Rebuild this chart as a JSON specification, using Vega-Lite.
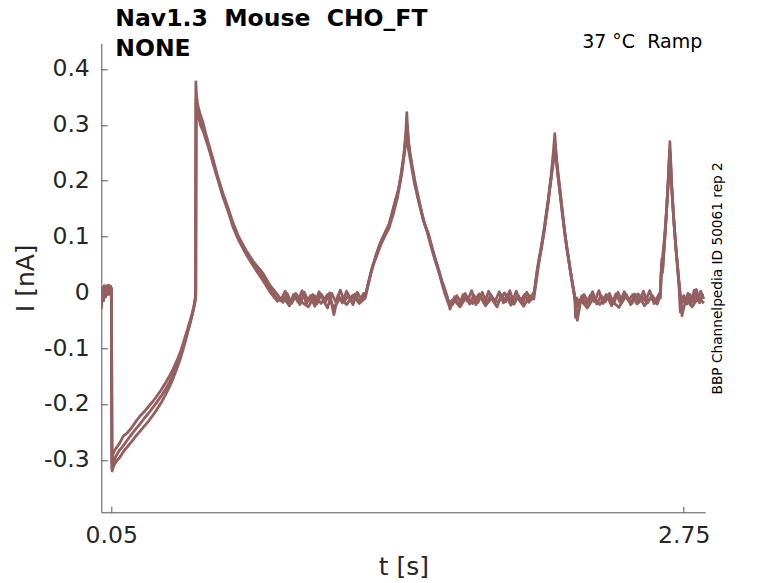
{
  "$schema": "https://vega.github.io/schema/vega-lite/v6.json",
  "description": "Nav1.3 ramp current, three repetitions",
  "autosize": {"type": "none"},
  "padding": {"left": 101.3, "top": 43.3, "right": 72.7, "bottom": 70.7},
  "width": 604,
  "height": 469,
  "title": {
    "text": ["Nav1.3\u00a0 Mouse\u00a0 CHO_FT", "NONE"],
    "anchor": "start",
    "frame": "group",
    "dx": 14,
    "offset": -28.5,
    "font": "DejaVu Sans",
    "fontSize": 23.5,
    "fontWeight": "bold",
    "color": "#000000",
    "lineHeight": 30
  },
  "data": {"values": [
    {"rep":"a","t":0.003,"I":-0.02},{"rep":"a","t":0.007,"I":0.008},{"rep":"a","t":0.012,"I":-0.01},{"rep":"a","t":0.017,"I":0.012},{"rep":"a","t":0.022,"I":-0.004},{"rep":"a","t":0.027,"I":0.01},{"rep":"a","t":0.032,"I":-0.002},{"rep":"a","t":0.037,"I":0.013},{"rep":"a","t":0.042,"I":0.0},{"rep":"a","t":0.047,"I":0.011},{"rep":"a","t":0.051,"I":0.004},{"rep":"a","t":0.053,"I":-0.305},
    {"rep":"a","t":0.058,"I":-0.29},{"rep":"a","t":0.066,"I":-0.283},{"rep":"a","t":0.075,"I":-0.278},{"rep":"a","t":0.09,"I":-0.27},{"rep":"a","t":0.106,"I":-0.258},{"rep":"a","t":0.125,"I":-0.252},{"rep":"a","t":0.145,"I":-0.243},{"rep":"a","t":0.165,"I":-0.232},{"rep":"a","t":0.185,"I":-0.222},{"rep":"a","t":0.205,"I":-0.214},{"rep":"a","t":0.225,"I":-0.205},{"rep":"a","t":0.245,"I":-0.196},{"rep":"a","t":0.263,"I":-0.187},{"rep":"a","t":0.285,"I":-0.175},{"rep":"a","t":0.305,"I":-0.163},{"rep":"a","t":0.325,"I":-0.15},{"rep":"a","t":0.341,"I":-0.138},{"rep":"a","t":0.36,"I":-0.122},{"rep":"a","t":0.375,"I":-0.108},{"rep":"a","t":0.388,"I":-0.093},{"rep":"a","t":0.4,"I":-0.078},{"rep":"a","t":0.41,"I":-0.066},{"rep":"a","t":0.42,"I":-0.053},{"rep":"a","t":0.43,"I":-0.04},{"rep":"a","t":0.44,"I":-0.025},{"rep":"a","t":0.447,"I":-0.008},
    {"rep":"a","t":0.449,"I":0.377},{"rep":"a","t":0.452,"I":0.355},{"rep":"a","t":0.456,"I":0.34},{"rep":"a","t":0.46,"I":0.332},{"rep":"a","t":0.47,"I":0.318},{"rep":"a","t":0.482,"I":0.305},{"rep":"a","t":0.495,"I":0.285},{"rep":"a","t":0.51,"I":0.265},{"rep":"a","t":0.529,"I":0.24},{"rep":"a","t":0.55,"I":0.21},{"rep":"a","t":0.576,"I":0.178},{"rep":"a","t":0.6,"I":0.152},{"rep":"a","t":0.623,"I":0.126},{"rep":"a","t":0.65,"I":0.1},{"rep":"a","t":0.686,"I":0.075},{"rep":"a","t":0.72,"I":0.055},{"rep":"a","t":0.764,"I":0.035},{"rep":"a","t":0.8,"I":0.012},{"rep":"a","t":0.834,"I":-0.004},
    {"rep":"a","t":0.86,"I":-0.018},{"rep":"a","t":0.88,"I":-0.002},{"rep":"a","t":0.9,"I":-0.02},{"rep":"a","t":0.92,"I":-0.006},{"rep":"a","t":0.94,"I":-0.022},{"rep":"a","t":0.96,"I":0.0},{"rep":"a","t":0.98,"I":-0.016},{"rep":"a","t":1.0,"I":-0.004},{"rep":"a","t":1.02,"I":-0.021},{"rep":"a","t":1.04,"I":-0.003},{"rep":"a","t":1.06,"I":-0.017},{"rep":"a","t":1.08,"I":-0.001},{"rep":"a","t":1.1,"I":-0.04},{"rep":"a","t":1.12,"I":-0.005},{"rep":"a","t":1.14,"I":-0.019},{"rep":"a","t":1.16,"I":0.002},{"rep":"a","t":1.18,"I":-0.015},{"rep":"a","t":1.2,"I":-0.003},{"rep":"a","t":1.22,"I":-0.018},{"rep":"a","t":1.24,"I":-0.002},
    {"rep":"a","t":1.25,"I":-0.004},{"rep":"a","t":1.265,"I":0.02},{"rep":"a","t":1.28,"I":0.042},{"rep":"a","t":1.297,"I":0.065},{"rep":"a","t":1.315,"I":0.085},{"rep":"a","t":1.33,"I":0.098},{"rep":"a","t":1.345,"I":0.11},{"rep":"a","t":1.36,"I":0.122},{"rep":"a","t":1.375,"I":0.143},{"rep":"a","t":1.39,"I":0.165},{"rep":"a","t":1.406,"I":0.186},{"rep":"a","t":1.42,"I":0.218},{"rep":"a","t":1.432,"I":0.25},{"rep":"a","t":1.44,"I":0.29},{"rep":"a","t":1.444,"I":0.322},{"rep":"a","t":1.448,"I":0.29},{"rep":"a","t":1.455,"I":0.255},{"rep":"a","t":1.47,"I":0.225},{"rep":"a","t":1.484,"I":0.196},{"rep":"a","t":1.5,"I":0.168},{"rep":"a","t":1.515,"I":0.142},{"rep":"a","t":1.53,"I":0.12},{"rep":"a","t":1.547,"I":0.104},{"rep":"a","t":1.565,"I":0.078},{"rep":"a","t":1.58,"I":0.058},{"rep":"a","t":1.594,"I":0.041},{"rep":"a","t":1.61,"I":0.02},{"rep":"a","t":1.625,"I":0.004},{"rep":"a","t":1.641,"I":-0.015},
    {"rep":"a","t":1.66,"I":-0.022},{"rep":"a","t":1.68,"I":-0.006},{"rep":"a","t":1.7,"I":-0.019},{"rep":"a","t":1.72,"I":-0.002},{"rep":"a","t":1.74,"I":-0.021},{"rep":"a","t":1.76,"I":-0.005},{"rep":"a","t":1.78,"I":-0.018},{"rep":"a","t":1.8,"I":0.0},{"rep":"a","t":1.82,"I":-0.02},{"rep":"a","t":1.84,"I":-0.004},{"rep":"a","t":1.86,"I":-0.017},{"rep":"a","t":1.88,"I":0.001},{"rep":"a","t":1.9,"I":-0.019},{"rep":"a","t":1.92,"I":-0.003},{"rep":"a","t":1.94,"I":-0.02},{"rep":"a","t":1.96,"I":0.002},{"rep":"a","t":1.98,"I":-0.016},{"rep":"a","t":2.0,"I":-0.004},{"rep":"a","t":2.02,"I":-0.018},{"rep":"a","t":2.04,"I":-0.002},
    {"rep":"a","t":2.045,"I":0.0},{"rep":"a","t":2.055,"I":0.03},{"rep":"a","t":2.065,"I":0.055},{"rep":"a","t":2.072,"I":0.068},{"rep":"a","t":2.09,"I":0.11},{"rep":"a","t":2.111,"I":0.166},{"rep":"a","t":2.125,"I":0.21},{"rep":"a","t":2.135,"I":0.25},{"rep":"a","t":2.142,"I":0.284},{"rep":"a","t":2.15,"I":0.24},{"rep":"a","t":2.165,"I":0.19},{"rep":"a","t":2.178,"I":0.145},{"rep":"a","t":2.189,"I":0.107},{"rep":"a","t":2.205,"I":0.065},{"rep":"a","t":2.22,"I":0.028},{"rep":"a","t":2.236,"I":-0.008},{"rep":"a","t":2.24,"I":-0.045},{"rep":"a","t":2.245,"I":-0.01},
    {"rep":"a","t":2.26,"I":-0.02},{"rep":"a","t":2.28,"I":-0.004},{"rep":"a","t":2.3,"I":-0.018},{"rep":"a","t":2.32,"I":0.001},{"rep":"a","t":2.34,"I":-0.021},{"rep":"a","t":2.36,"I":-0.006},{"rep":"a","t":2.38,"I":-0.017},{"rep":"a","t":2.4,"I":-0.002},{"rep":"a","t":2.42,"I":-0.02},{"rep":"a","t":2.44,"I":0.0},{"rep":"a","t":2.46,"I":-0.016},{"rep":"a","t":2.48,"I":-0.004},{"rep":"a","t":2.5,"I":-0.022},{"rep":"a","t":2.52,"I":-0.003},{"rep":"a","t":2.54,"I":-0.018},{"rep":"a","t":2.56,"I":0.002},{"rep":"a","t":2.58,"I":-0.019},{"rep":"a","t":2.6,"I":-0.005},{"rep":"a","t":2.62,"I":-0.017},{"rep":"a","t":2.635,"I":-0.004},
    {"rep":"a","t":2.64,"I":-0.01},{"rep":"a","t":2.643,"I":0.03},{"rep":"a","t":2.647,"I":0.06},{"rep":"a","t":2.652,"I":0.045},{"rep":"a","t":2.66,"I":0.09},{"rep":"a","t":2.67,"I":0.15},{"rep":"a","t":2.678,"I":0.205},{"rep":"a","t":2.685,"I":0.27},{"rep":"a","t":2.692,"I":0.2},{"rep":"a","t":2.7,"I":0.15},{"rep":"a","t":2.71,"I":0.095},{"rep":"a","t":2.72,"I":0.05},{"rep":"a","t":2.728,"I":0.012},{"rep":"a","t":2.734,"I":-0.035},{"rep":"a","t":2.74,"I":-0.008},
    {"rep":"a","t":2.755,"I":-0.018},{"rep":"a","t":2.77,"I":-0.002},{"rep":"a","t":2.785,"I":-0.02},{"rep":"a","t":2.8,"I":0.004},{"rep":"a","t":2.815,"I":-0.015},{"rep":"a","t":2.83,"I":0.002},{"rep":"a","t":2.845,"I":-0.012},

    {"rep":"b","t":0.003,"I":-0.03},{"rep":"b","t":0.009,"I":0.0},{"rep":"b","t":0.014,"I":-0.015},{"rep":"b","t":0.019,"I":0.006},{"rep":"b","t":0.024,"I":-0.008},{"rep":"b","t":0.03,"I":0.012},{"rep":"b","t":0.035,"I":-0.004},{"rep":"b","t":0.04,"I":0.009},{"rep":"b","t":0.045,"I":-0.003},{"rep":"b","t":0.05,"I":0.008},{"rep":"b","t":0.053,"I":-0.315},
    {"rep":"b","t":0.06,"I":-0.305},{"rep":"b","t":0.07,"I":-0.295},{"rep":"b","t":0.085,"I":-0.285},{"rep":"b","t":0.106,"I":-0.275},{"rep":"b","t":0.125,"I":-0.265},{"rep":"b","t":0.145,"I":-0.255},{"rep":"b","t":0.165,"I":-0.245},{"rep":"b","t":0.185,"I":-0.236},{"rep":"b","t":0.205,"I":-0.226},{"rep":"b","t":0.225,"I":-0.217},{"rep":"b","t":0.245,"I":-0.207},{"rep":"b","t":0.263,"I":-0.198},{"rep":"b","t":0.285,"I":-0.186},{"rep":"b","t":0.305,"I":-0.174},{"rep":"b","t":0.325,"I":-0.161},{"rep":"b","t":0.341,"I":-0.148},{"rep":"b","t":0.36,"I":-0.131},{"rep":"b","t":0.375,"I":-0.116},{"rep":"b","t":0.388,"I":-0.1},{"rep":"b","t":0.4,"I":-0.085},{"rep":"b","t":0.41,"I":-0.071},{"rep":"b","t":0.42,"I":-0.058},{"rep":"b","t":0.43,"I":-0.043},{"rep":"b","t":0.44,"I":-0.027},{"rep":"b","t":0.448,"I":-0.01},
    {"rep":"b","t":0.45,"I":0.345},{"rep":"b","t":0.454,"I":0.325},{"rep":"b","t":0.46,"I":0.315},{"rep":"b","t":0.47,"I":0.305},{"rep":"b","t":0.482,"I":0.292},{"rep":"b","t":0.495,"I":0.275},{"rep":"b","t":0.51,"I":0.258},{"rep":"b","t":0.529,"I":0.232},{"rep":"b","t":0.55,"I":0.205},{"rep":"b","t":0.576,"I":0.172},{"rep":"b","t":0.6,"I":0.146},{"rep":"b","t":0.623,"I":0.121},{"rep":"b","t":0.65,"I":0.097},{"rep":"b","t":0.686,"I":0.07},{"rep":"b","t":0.72,"I":0.05},{"rep":"b","t":0.764,"I":0.028},{"rep":"b","t":0.8,"I":0.006},{"rep":"b","t":0.834,"I":-0.012},
    {"rep":"b","t":0.85,"I":-0.015},{"rep":"b","t":0.87,"I":0.002},{"rep":"b","t":0.89,"I":-0.024},{"rep":"b","t":0.91,"I":-0.004},{"rep":"b","t":0.93,"I":-0.017},{"rep":"b","t":0.95,"I":0.003},{"rep":"b","t":0.97,"I":-0.02},{"rep":"b","t":0.99,"I":-0.006},{"rep":"b","t":1.01,"I":-0.025},{"rep":"b","t":1.03,"I":0.001},{"rep":"b","t":1.05,"I":-0.014},{"rep":"b","t":1.07,"I":-0.028},{"rep":"b","t":1.09,"I":-0.002},{"rep":"b","t":1.11,"I":-0.018},{"rep":"b","t":1.13,"I":0.004},{"rep":"b","t":1.15,"I":-0.016},{"rep":"b","t":1.17,"I":-0.005},{"rep":"b","t":1.19,"I":-0.022},{"rep":"b","t":1.21,"I":0.0},{"rep":"b","t":1.23,"I":-0.013},{"rep":"b","t":1.245,"I":-0.004},
    {"rep":"b","t":1.252,"I":0.0},{"rep":"b","t":1.268,"I":0.025},{"rep":"b","t":1.285,"I":0.048},{"rep":"b","t":1.3,"I":0.066},{"rep":"b","t":1.32,"I":0.088},{"rep":"b","t":1.34,"I":0.104},{"rep":"b","t":1.36,"I":0.118},{"rep":"b","t":1.38,"I":0.148},{"rep":"b","t":1.4,"I":0.175},{"rep":"b","t":1.415,"I":0.205},{"rep":"b","t":1.428,"I":0.24},{"rep":"b","t":1.438,"I":0.275},{"rep":"b","t":1.446,"I":0.3},{"rep":"b","t":1.452,"I":0.27},{"rep":"b","t":1.465,"I":0.235},{"rep":"b","t":1.48,"I":0.2},{"rep":"b","t":1.495,"I":0.172},{"rep":"b","t":1.51,"I":0.148},{"rep":"b","t":1.525,"I":0.126},{"rep":"b","t":1.54,"I":0.11},{"rep":"b","t":1.56,"I":0.083},{"rep":"b","t":1.575,"I":0.062},{"rep":"b","t":1.59,"I":0.045},{"rep":"b","t":1.605,"I":0.024},{"rep":"b","t":1.62,"I":0.006},{"rep":"b","t":1.636,"I":-0.012},{"rep":"b","t":1.648,"I":-0.03},
    {"rep":"b","t":1.67,"I":-0.008},{"rep":"b","t":1.69,"I":-0.024},{"rep":"b","t":1.71,"I":-0.004},{"rep":"b","t":1.73,"I":-0.016},{"rep":"b","t":1.75,"I":0.003},{"rep":"b","t":1.77,"I":-0.022},{"rep":"b","t":1.79,"I":-0.007},{"rep":"b","t":1.81,"I":-0.019},{"rep":"b","t":1.83,"I":0.002},{"rep":"b","t":1.85,"I":-0.015},{"rep":"b","t":1.87,"I":-0.026},{"rep":"b","t":1.89,"I":-0.004},{"rep":"b","t":1.91,"I":-0.017},{"rep":"b","t":1.93,"I":0.003},{"rep":"b","t":1.95,"I":-0.021},{"rep":"b","t":1.97,"I":-0.006},{"rep":"b","t":1.99,"I":-0.02},{"rep":"b","t":2.01,"I":0.0},{"rep":"b","t":2.03,"I":-0.014},{"rep":"b","t":2.042,"I":-0.004},
    {"rep":"b","t":2.05,"I":0.012},{"rep":"b","t":2.06,"I":0.04},{"rep":"b","t":2.07,"I":0.06},{"rep":"b","t":2.08,"I":0.08},{"rep":"b","t":2.1,"I":0.13},{"rep":"b","t":2.115,"I":0.175},{"rep":"b","t":2.128,"I":0.215},{"rep":"b","t":2.138,"I":0.25},{"rep":"b","t":2.144,"I":0.262},{"rep":"b","t":2.152,"I":0.225},{"rep":"b","t":2.168,"I":0.175},{"rep":"b","t":2.18,"I":0.135},{"rep":"b","t":2.192,"I":0.098},{"rep":"b","t":2.208,"I":0.058},{"rep":"b","t":2.222,"I":0.022},{"rep":"b","t":2.238,"I":-0.012},{"rep":"b","t":2.25,"I":-0.025},
    {"rep":"b","t":2.27,"I":-0.006},{"rep":"b","t":2.29,"I":-0.022},{"rep":"b","t":2.31,"I":-0.005},{"rep":"b","t":2.33,"I":-0.017},{"rep":"b","t":2.35,"I":0.003},{"rep":"b","t":2.37,"I":-0.02},{"rep":"b","t":2.39,"I":-0.008},{"rep":"b","t":2.41,"I":-0.024},{"rep":"b","t":2.43,"I":-0.003},{"rep":"b","t":2.45,"I":-0.018},{"rep":"b","t":2.47,"I":0.001},{"rep":"b","t":2.49,"I":-0.015},{"rep":"b","t":2.51,"I":-0.004},{"rep":"b","t":2.53,"I":-0.021},{"rep":"b","t":2.55,"I":-0.006},{"rep":"b","t":2.57,"I":-0.016},{"rep":"b","t":2.59,"I":0.003},{"rep":"b","t":2.61,"I":-0.02},{"rep":"b","t":2.63,"I":-0.006},
    {"rep":"b","t":2.641,"I":0.0},{"rep":"b","t":2.646,"I":0.05},{"rep":"b","t":2.65,"I":0.035},{"rep":"b","t":2.656,"I":0.07},{"rep":"b","t":2.665,"I":0.12},{"rep":"b","t":2.674,"I":0.18},{"rep":"b","t":2.682,"I":0.235},{"rep":"b","t":2.687,"I":0.25},{"rep":"b","t":2.695,"I":0.18},{"rep":"b","t":2.703,"I":0.13},{"rep":"b","t":2.713,"I":0.08},{"rep":"b","t":2.722,"I":0.04},{"rep":"b","t":2.73,"I":0.005},{"rep":"b","t":2.738,"I":-0.02},{"rep":"b","t":2.75,"I":-0.006},{"rep":"b","t":2.765,"I":-0.021},{"rep":"b","t":2.78,"I":-0.004},{"rep":"b","t":2.795,"I":-0.017},{"rep":"b","t":2.81,"I":0.005},{"rep":"b","t":2.825,"I":-0.019},{"rep":"b","t":2.84,"I":-0.002},

    {"rep":"c","t":0.003,"I":0.005},{"rep":"c","t":0.01,"I":-0.012},{"rep":"c","t":0.016,"I":0.01},{"rep":"c","t":0.022,"I":-0.006},{"rep":"c","t":0.028,"I":0.008},{"rep":"c","t":0.034,"I":-0.002},{"rep":"c","t":0.04,"I":0.01},{"rep":"c","t":0.046,"I":-0.004},{"rep":"c","t":0.051,"I":0.006},{"rep":"c","t":0.054,"I":-0.32},
    {"rep":"c","t":0.062,"I":-0.31},{"rep":"c","t":0.075,"I":-0.302},{"rep":"c","t":0.09,"I":-0.296},{"rep":"c","t":0.106,"I":-0.286},{"rep":"c","t":0.125,"I":-0.277},{"rep":"c","t":0.145,"I":-0.268},{"rep":"c","t":0.165,"I":-0.258},{"rep":"c","t":0.185,"I":-0.249},{"rep":"c","t":0.205,"I":-0.24},{"rep":"c","t":0.225,"I":-0.231},{"rep":"c","t":0.245,"I":-0.221},{"rep":"c","t":0.263,"I":-0.211},{"rep":"c","t":0.285,"I":-0.198},{"rep":"c","t":0.305,"I":-0.184},{"rep":"c","t":0.325,"I":-0.169},{"rep":"c","t":0.341,"I":-0.155},{"rep":"c","t":0.36,"I":-0.136},{"rep":"c","t":0.375,"I":-0.12},{"rep":"c","t":0.388,"I":-0.103},{"rep":"c","t":0.4,"I":-0.087},{"rep":"c","t":0.41,"I":-0.072},{"rep":"c","t":0.42,"I":-0.058},{"rep":"c","t":0.43,"I":-0.042},{"rep":"c","t":0.44,"I":-0.026},{"rep":"c","t":0.449,"I":-0.005},
    {"rep":"c","t":0.451,"I":0.32},{"rep":"c","t":0.456,"I":0.31},{"rep":"c","t":0.462,"I":0.322},{"rep":"c","t":0.47,"I":0.3},{"rep":"c","t":0.482,"I":0.29},{"rep":"c","t":0.495,"I":0.28},{"rep":"c","t":0.51,"I":0.26},{"rep":"c","t":0.529,"I":0.236},{"rep":"c","t":0.55,"I":0.208},{"rep":"c","t":0.576,"I":0.175},{"rep":"c","t":0.6,"I":0.149},{"rep":"c","t":0.623,"I":0.118},{"rep":"c","t":0.65,"I":0.094},{"rep":"c","t":0.686,"I":0.068},{"rep":"c","t":0.72,"I":0.047},{"rep":"c","t":0.764,"I":0.022},{"rep":"c","t":0.8,"I":0.0},{"rep":"c","t":0.834,"I":-0.016},
    {"rep":"c","t":0.86,"I":-0.008},{"rep":"c","t":0.89,"I":-0.024},{"rep":"c","t":0.92,"I":-0.002},{"rep":"c","t":0.95,"I":-0.018},{"rep":"c","t":0.98,"I":-0.026},{"rep":"c","t":1.01,"I":-0.006},{"rep":"c","t":1.04,"I":-0.02},{"rep":"c","t":1.07,"I":-0.004},{"rep":"c","t":1.1,"I":-0.028},{"rep":"c","t":1.13,"I":-0.01},{"rep":"c","t":1.16,"I":-0.022},{"rep":"c","t":1.19,"I":-0.005},{"rep":"c","t":1.22,"I":-0.02},{"rep":"c","t":1.248,"I":-0.01},
    {"rep":"c","t":1.26,"I":0.01},{"rep":"c","t":1.28,"I":0.045},{"rep":"c","t":1.3,"I":0.063},{"rep":"c","t":1.32,"I":0.084},{"rep":"c","t":1.34,"I":0.1},{"rep":"c","t":1.36,"I":0.115},{"rep":"c","t":1.38,"I":0.14},{"rep":"c","t":1.4,"I":0.17},{"rep":"c","t":1.42,"I":0.212},{"rep":"c","t":1.435,"I":0.255},{"rep":"c","t":1.443,"I":0.29},{"rep":"c","t":1.45,"I":0.26},{"rep":"c","t":1.465,"I":0.228},{"rep":"c","t":1.48,"I":0.195},{"rep":"c","t":1.5,"I":0.163},{"rep":"c","t":1.52,"I":0.132},{"rep":"c","t":1.54,"I":0.108},{"rep":"c","t":1.56,"I":0.08},{"rep":"c","t":1.58,"I":0.054},{"rep":"c","t":1.6,"I":0.03},{"rep":"c","t":1.62,"I":0.002},{"rep":"c","t":1.64,"I":-0.02},
    {"rep":"c","t":1.665,"I":-0.012},{"rep":"c","t":1.695,"I":-0.026},{"rep":"c","t":1.725,"I":-0.008},{"rep":"c","t":1.755,"I":-0.02},{"rep":"c","t":1.785,"I":-0.003},{"rep":"c","t":1.815,"I":-0.024},{"rep":"c","t":1.845,"I":-0.01},{"rep":"c","t":1.875,"I":-0.018},{"rep":"c","t":1.905,"I":-0.001},{"rep":"c","t":1.935,"I":-0.023},{"rep":"c","t":1.965,"I":-0.009},{"rep":"c","t":1.995,"I":-0.025},{"rep":"c","t":2.025,"I":-0.006},{"rep":"c","t":2.043,"I":-0.012},
    {"rep":"c","t":2.055,"I":0.02},{"rep":"c","t":2.07,"I":0.062},{"rep":"c","t":2.09,"I":0.105},{"rep":"c","t":2.11,"I":0.16},{"rep":"c","t":2.125,"I":0.205},{"rep":"c","t":2.138,"I":0.24},{"rep":"c","t":2.146,"I":0.255},{"rep":"c","t":2.155,"I":0.215},{"rep":"c","t":2.17,"I":0.165},{"rep":"c","t":2.185,"I":0.118},{"rep":"c","t":2.2,"I":0.075},{"rep":"c","t":2.215,"I":0.04},{"rep":"c","t":2.23,"I":0.005},{"rep":"c","t":2.24,"I":-0.02},{"rep":"c","t":2.248,"I":-0.05},
    {"rep":"c","t":2.265,"I":-0.014},{"rep":"c","t":2.295,"I":-0.028},{"rep":"c","t":2.325,"I":-0.01},{"rep":"c","t":2.355,"I":-0.022},{"rep":"c","t":2.385,"I":-0.004},{"rep":"c","t":2.415,"I":-0.017},{"rep":"c","t":2.445,"I":-0.027},{"rep":"c","t":2.475,"I":-0.008},{"rep":"c","t":2.505,"I":-0.02},{"rep":"c","t":2.535,"I":-0.003},{"rep":"c","t":2.565,"I":-0.024},{"rep":"c","t":2.595,"I":-0.01},{"rep":"c","t":2.625,"I":-0.021},{"rep":"c","t":2.638,"I":-0.008},
    {"rep":"c","t":2.645,"I":0.04},{"rep":"c","t":2.651,"I":0.065},{"rep":"c","t":2.66,"I":0.1},{"rep":"c","t":2.668,"I":0.14},{"rep":"c","t":2.677,"I":0.195},{"rep":"c","t":2.684,"I":0.255},{"rep":"c","t":2.69,"I":0.21},{"rep":"c","t":2.698,"I":0.16},{"rep":"c","t":2.708,"I":0.105},{"rep":"c","t":2.718,"I":0.06},{"rep":"c","t":2.728,"I":0.02},{"rep":"c","t":2.736,"I":-0.01},{"rep":"c","t":2.742,"I":-0.042},{"rep":"c","t":2.76,"I":-0.012},{"rep":"c","t":2.79,"I":-0.026},{"rep":"c","t":2.82,"I":-0.008},{"rep":"c","t":2.845,"I":-0.02}
  ]},
  "layer": [
    {
      "mark": {"type": "line", "color": "#945f5f", "strokeWidth": 2.8, "strokeJoin": "round", "clip": true},
      "encoding": {
        "x": {
          "field": "t", "type": "quantitative",
          "scale": {"domain": [0.003, 2.852], "nice": false, "zero": false},
          "axis": {
            "values": [0.05, 2.75], "format": ".2f", "title": "t [s]",
            "tickSize": -6, "labelPadding": 17, "titlePadding": 8
          }
        },
        "y": {
          "field": "I", "type": "quantitative",
          "scale": {"domain": [-0.394, 0.446], "nice": false, "zero": false},
          "axis": {
            "values": [-0.3, -0.2, -0.1, 0, 0.1, 0.2, 0.3, 0.4],
            "labelExpr": "datum.value == 0 ? '0' : replace(datum.label, '\u2212', '-')",
            "title": "I [nA]",
            "tickSize": -6, "labelPadding": 18, "titlePadding": 5
          }
        },
        "detail": {"field": "rep"}
      }
    },
    {
      "mark": {"type": "line", "opacity": 0},
      "encoding": {
        "x": {
          "field": "t", "type": "quantitative",
          "scale": {"domain": [0.003, 2.852], "nice": false, "zero": false},
          "axis": {
            "orient": "top", "domain": false, "ticks": false, "labels": false,
            "title": "37 °C\u00a0 Ramp", "titleFontSize": 19, "titleColor": "#000000",
            "titleAlign": "right", "titleBaseline": "alphabetic",
            "titleX": 600.4, "titleY": 4
          }
        },
        "y": {
          "field": "I", "type": "quantitative",
          "scale": {"domain": [-0.394, 0.446], "nice": false, "zero": false},
          "axis": {
            "orient": "right", "domain": false, "ticks": false, "labels": false,
            "title": "BBP Channelpedia ID 50061 rep 2", "titleFontSize": 13.7,
            "titleColor": "#000000", "titleAngle": 270, "titleAlign": "center",
            "titleBaseline": "alphabetic", "titleX": 16.5, "titleY": 234.5
          }
        },
        "detail": {"field": "rep"}
      }
    }
  ],
  "resolve": {"axis": {"x": "independent", "y": "independent"}},
  "config": {
    "font": "DejaVu Sans",
    "view": {"stroke": null},
    "axis": {
      "grid": false,
      "domainColor": "#555555",
      "tickColor": "#555555",
      "labelColor": "#262626",
      "labelFont": "DejaVu Sans",
      "labelFontSize": 23.5,
      "titleFont": "DejaVu Sans",
      "titleFontSize": 25,
      "titleFontWeight": "normal",
      "titleColor": "#262626"
    }
  }
}
